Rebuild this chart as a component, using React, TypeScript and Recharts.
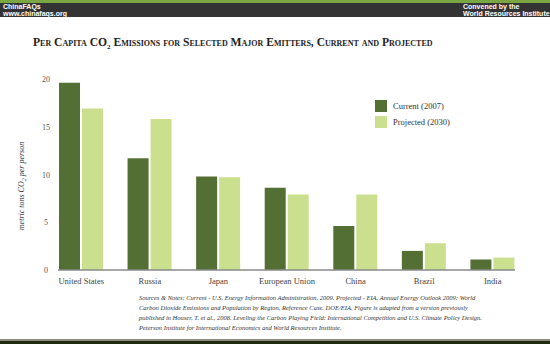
import React from 'react';
import { BarChart, Bar, XAxis, YAxis } from 'recharts';

const countries = ['United States', 'Russia', 'Japan', 'European Union', 'China', 'Brazil', 'India'];
const current2007 = [19.6, 11.7, 9.8, 8.6, 4.6, 2.0, 1.1];
const projected2030 = [16.9, 15.8, 9.7, 7.9, 7.9, 2.8, 1.3];
const yTicks = [0, 5, 10, 15, 20];
const seriesNames = ['Current (2007)', 'Projected (2030)'];

const DARK = '#546f34';
const LIGHT = '#cbe08e';
const SERIF = '"Liberation Serif", "DejaVu Serif", serif';

const data = countries.map((name, i) => ({
  name,
  current: current2007[i],
  projected: projected2030[i],
}));

const notes = [
  'Sources & Notes: Current - U.S. Energy Information Administration, 2009. Projected - EIA, Annual Energy Outlook 2009: World',
  'Carbon Dioxide Emissions and Population by Region, Reference Case. DOE/EIA. Figure is adapted from a version previously',
  'published in Houser, T. et al., 2008. Leveling the Carbon Playing Field: International Competition and U.S. Climate Policy Design.',
  'Peterson Institute for International Economics and World Resources Institute.',
];

const YTick = ({ x, y, payload }: any) => (
  <text x={x - 4} y={y} dy={3} textAnchor="middle" fontSize={8} fill="#555" fontFamily={SERIF}>
    {payload.value}
  </text>
);

const XTick = ({ x, y, payload }: any) => (
  <text x={x} y={y} dy={6} textAnchor="middle" fontSize={8.5} fill="#444" fontFamily={SERIF}>
    {payload.value}
  </text>
);

export default function App() {
  const headerText: React.CSSProperties = {
    position: 'absolute',
    fontFamily: '"Liberation Sans", Arial, sans-serif',
    fontWeight: 700,
    fontSize: 7,
    lineHeight: '7px',
    color: '#fff',
    whiteSpace: 'nowrap',
  };

  return (
    <div style={{ position: 'relative', width: 550, height: 344, background: '#fff', overflow: 'hidden' }}>
      <style>{'body{margin:0}'}</style>
      {/* header band */}
      <div style={{ position: 'absolute', left: 0, top: 0, width: 550, height: 3, background: '#79a843' }} />
      <div style={{ position: 'absolute', left: 0, top: 3, width: 550, height: 14, background: '#333' }}>
        <div style={{ ...headerText, left: 3, top: 0 }}>ChinaFAQs</div>
        <div style={{ ...headerText, left: 3, top: 7 }}>www.chinafaqs.org</div>
        <div style={{ ...headerText, right: 3, top: 0, width: 84 }}>Convened by the</div>
        <div style={{ ...headerText, right: 3, top: 7, width: 84 }}>World Resources Institute</div>
      </div>

      {/* title */}
      <div
        style={{
          position: 'absolute',
          left: 33,
          top: 36,
          fontFamily: SERIF,
          fontSize: 11.6,
          fontWeight: 700,
          fontVariant: 'small-caps',
          color: '#222',
          whiteSpace: 'nowrap',
        }}
      >
        Per Capita CO<sub style={{ fontSize: 7 }}>2</sub> Emissions for Selected Major Emitters, Current and Projected
      </div>

      {/* y axis label */}
      <div
        style={{
          position: 'absolute',
          left: 22,
          top: 186,
          transform: 'translate(-50%, -50%) rotate(-90deg)',
          fontFamily: SERIF,
          fontStyle: 'italic',
          fontSize: 8,
          color: '#333',
          whiteSpace: 'nowrap',
        }}
      >
        metric tons CO<sub style={{ fontSize: 6 }}>2</sub> per person
      </div>

      <div style={{ position: 'absolute', left: 0, top: 0 }}>
        <BarChart
          width={550}
          height={344}
          data={data}
          barSize={21}
          barGap={2}
          margin={{ top: 79, right: 35, bottom: 44, left: 38 }}
        >
          <XAxis
            dataKey="name"
            interval={0}
            height={30}
            tickLine={false}
            axisLine={{ stroke: '#8a8a8a', strokeWidth: 1.5 }}
            padding={{ left: -11, right: -12 }}
            tick={<XTick />}
          />
          <YAxis
            width={20}
            domain={[0, 20]}
            ticks={yTicks}
            axisLine={false}
            tickLine={false}
            tick={<YTick />}
          />
          <Bar dataKey="current" name={seriesNames[0]} fill={DARK} isAnimationActive={false} />
          <Bar dataKey="projected" name={seriesNames[1]} fill={LIGHT} isAnimationActive={false} />
        </BarChart>
      </div>

      {/* legend */}
      <div style={{ position: 'absolute', left: 375, top: 98, fontFamily: SERIF, fontSize: 8.5, color: '#333' }}>
        {seriesNames.map((label, i) => (
          <div key={label} style={{ display: 'flex', alignItems: 'center', height: 16 }}>
            <span style={{ width: 12, height: 12, background: i === 0 ? DARK : LIGHT, marginRight: 6 }} />
            <span>{label}</span>
          </div>
        ))}
      </div>

      {/* sources */}
      <div
        style={{
          position: 'absolute',
          left: 139,
          top: 293,
          fontFamily: SERIF,
          fontStyle: 'italic',
          fontSize: 6.5,
          lineHeight: '10px',
          color: '#333',
          whiteSpace: 'nowrap',
        }}
      >
        {notes.map((line) => (
          <div key={line}>{line}</div>
        ))}
      </div>

      {/* footer band */}
      <div style={{ position: 'absolute', left: 0, top: 339, width: 550, height: 1.5, background: '#8d8d80' }} />
      <div style={{ position: 'absolute', left: 0, top: 340.5, width: 550, height: 4, background: '#1d2a10' }} />
    </div>
  );
}
